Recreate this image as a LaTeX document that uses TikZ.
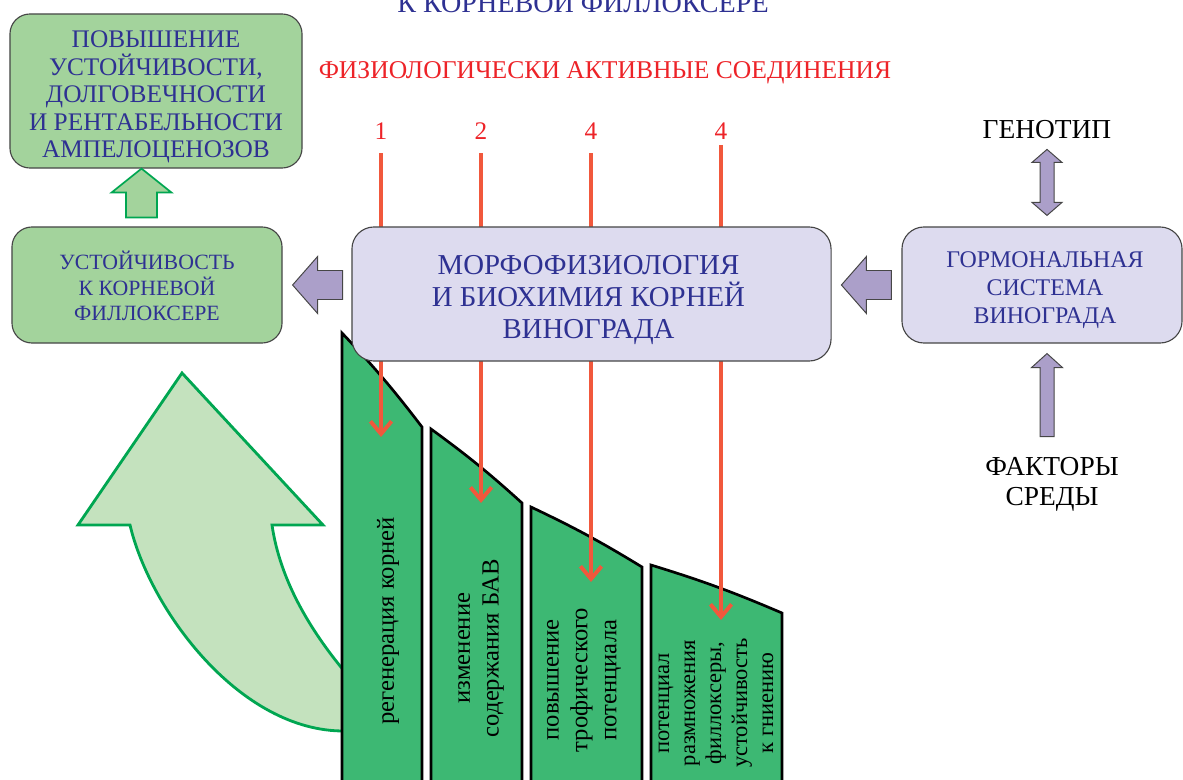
\documentclass[tikz,border=0pt]{standalone}
\usepackage{fontspec}
\setmainfont{Liberation Serif}
\usetikzlibrary{arrows.meta,calc,positioning}

\definecolor{boxgreen}{RGB}{163,211,156}
\definecolor{lightlav}{RGB}{221,219,239}
\definecolor{arrowlav}{RGB}{171,159,201}
\definecolor{textblue}{RGB}{46,49,146}
\definecolor{titlered}{RGB}{237,35,40}
\definecolor{linered}{RGB}{241,88,60}
\definecolor{bargreen}{RGB}{61,184,115}
\definecolor{paleg}{RGB}{196,226,190}
\definecolor{edgegreen}{RGB}{0,166,81}
\definecolor{boxline}{RGB}{70,70,70}

% block arrow: style, tip, rotation, length, head length, head half width, shaft half width
\newcommand{\blockarrow}[7]{%
	\draw[#1, shift={#2}, rotate=#3]
	(0,0) -- (#5,-#6) -- (#5,-#7) -- (#4,-#7) -- (#4,#7) -- (#5,#7) -- (#5,#6) -- cycle;}

\begin{document}
\begin{tikzpicture}[
	x=0.025cm, y=-0.025cm,
	greenbox/.style={
		draw=boxline,
		line width=0.8pt,
		fill=boxgreen,
		rounded corners=0.5cm
	},
	lavbox/.style={
		draw=boxline,
		line width=0.8pt,
		fill=lightlav,
		rounded corners=0.55cm
	},
	boxtext/.style={text=textblue, align=center, inner sep=0pt},
	parrow/.style={draw=boxline, line width=0.7pt, fill=arrowlav},
	garrow/.style={draw=edgegreen, line width=1.2pt, fill=boxgreen},
	bar/.style={draw=black, line width=1.9pt, fill=bargreen},
	bartext/.style={rotate=90, align=center, font=\fontsize{17.5}{20.5}\selectfont},
	redarr/.style={draw=linered, line width=2.8pt, -{Straight Barb[length=9pt,width=15pt]}, shorten <=6pt},
	num/.style={text=titlered, anchor=base, font=\fontsize{18}{18}\selectfont}
	]
	
	\useasboundingbox (0,0) rectangle (1183,780);
	\clip (0,0) rectangle (1183,780);
	
	% big curved arrow behind the bars
	\draw[garrow, line width=2pt, fill=paleg] (182,373) -- (323,525) -- (272,525)
	.. controls (280,580) and (310,630) .. (345,672) -- (345,731)
	.. controls (240,732) and (150,610) .. (130,525) -- (78,525) -- cycle;
	
	% bars
	\draw[bar] (342,800) -- (342,333) to[bend left=3] (422,427) -- (422,800) -- cycle;
	\draw[bar] (431,800) -- (431,429) to[bend left=3] (522,503) -- (522,800) -- cycle;
	\draw[bar] (531,800) -- (531,507) to[bend left=3] (642,567) -- (642,800) -- cycle;
	\draw[bar] (651,800) -- (651,565) to[bend left=3] (782,613) -- (782,800) -- cycle;
	
	\node[bartext] (b1) at (388,621) {регенерация корней};
	\node[bartext] (b2) at (481,648) {изменение\\содержания БАВ};
	\node[bartext] (b3) at (584,680) {повышение\\трофического\\потенциала};
	\node[bartext, font=\fontsize{16}{18.5}\selectfont] (b4) at (716,703)
	{потенциал\\размножения\\филлоксеры,\\устойчивость\\к гниению};
	
	% titles and red arrows
	\node[text=textblue, anchor=base, font=\fontsize{20}{20}\selectfont] (ttl) at (583,13) {К КОРНЕВОЙ ФИЛЛОКСЕРЕ};
	\node[text=titlered, anchor=base, font=\fontsize{18.2}{18.2}\selectfont] (phys) at (605,79) {ФИЗИОЛОГИЧЕСКИ АКТИВНЫЕ СОЕДИНЕНИЯ};
	
	\node[num] (n1) at (381,140) {1};
	\node[num] (n2) at (481,140) {2};
	\node[num] (n3) at (591,140) {4};
	\node[num] (n4) at (721,140) {4};
	
	\coordinate (t1) at (381,437);
	\coordinate (t2) at (481,503);
	\coordinate (t3) at (591,582);
	\coordinate (t4) at (721,620);
	
	\foreach \n/\t in {n1/t1, n2/t2, n3/t3}
	\draw[redarr] (\n) -- (\t);
	\draw[redarr, shorten <=0pt] (n4) -- (t4);
	
	% boxes
	\node[greenbox, minimum width=7.3cm, minimum height=3.85cm] (incr) at (156,91) {};
	\node[boxtext, font=\fontsize{18}{19.5}\selectfont] (incr-t) at ($(incr)+(0,6)$)
	{ПОВЫШЕНИЕ\\УСТОЙЧИВОСТИ,\\ДОЛГОВЕЧНОСТИ\\И РЕНТАБЕЛЬНОСТИ\\АМПЕЛОЦЕНОЗОВ};
	\node[greenbox, minimum width=6.75cm, minimum height=2.9cm] (ust) at (147,285) {};
	\node[boxtext, font=\fontsize{15.5}{18}\selectfont] (ust-t) at ($(ust)+(0,1)$)
	{УСТОЙЧИВОСТЬ\\К КОРНЕВОЙ\\ФИЛЛОКСЕРЕ};
	\node[lavbox, minimum width=11.975cm, minimum height=3.35cm] (morph) at (591.5,294) {};
	\node[boxtext, font=\fontsize{20.5}{22.5}\selectfont] (morph-t) at ($(morph)+(-3,6)$)
	{МОРФОФИЗИОЛОГИЯ\\И БИОХИМИЯ КОРНЕЙ\\ВИНОГРАДА};
	\node[lavbox, minimum width=7cm, minimum height=2.9cm] (horm) at (1042,285) {};
	\node[boxtext, font=\fontsize{17}{20}\selectfont] (horm-t) at ($(horm)+(3,5)$)
	{ГОРМОНАЛЬНАЯ\\СИСТЕМА\\ВИНОГРАДА};
	
	\node[anchor=base, font=\fontsize{19.5}{21}\selectfont] (gen) at (1047,139) {ГЕНОТИП};
	\node[align=center, font=\fontsize{19.5}{21.5}\selectfont] (fact) at (1052,484) {ФАКТОРЫ\\СРЕДЫ};
	
	% block arrows
	\blockarrow{garrow}{($(incr.south)+(-14.5,0)$)}{-90}{49}{24}{30}{15.5}
	\blockarrow{parrow}{($(ust.east)+(10,0)$)}{0}{50}{25}{28.5}{14.5}
	\blockarrow{parrow}{($(horm.west)+(-60,0)$)}{0}{50}{25}{28.5}{14.5}
	\blockarrow{parrow}{($(horm.south)+(5,10)$)}{-90}{83}{14}{15.5}{7}
	\draw[parrow, shift={($(horm.north)+(5,0)$)}]
	(0,-77) -- (15,-64) -- (7,-64) -- (7,-24) -- (15,-24) -- (0,-11)
	-- (-15,-24) -- (-7,-24) -- (-7,-64) -- (-15,-64) -- cycle;
	
\end{tikzpicture}
\end{document}
